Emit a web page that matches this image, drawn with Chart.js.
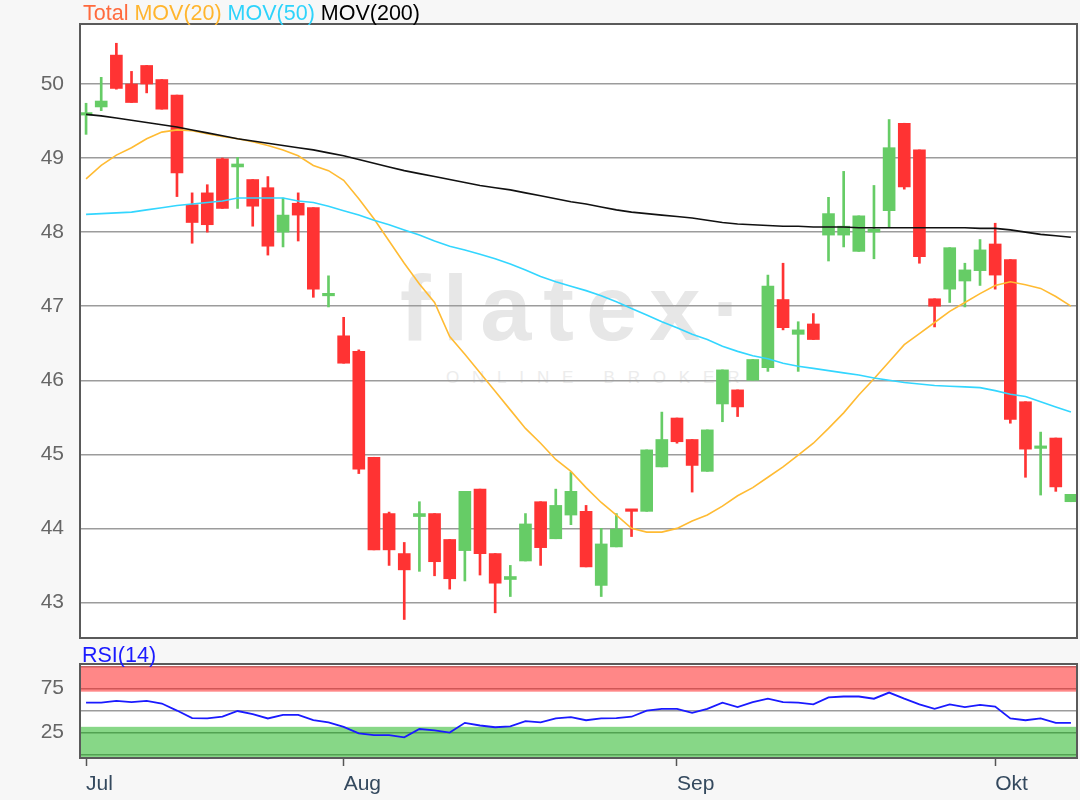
<!DOCTYPE html>
<html><head><meta charset="utf-8">
<script src="https://cdn.jsdelivr.net/npm/chart.js@4.4.1/dist/chart.umd.min.js"></script>
<style>
html,body{margin:0;padding:0;background:#f7f7f7;}
body{width:1080px;height:800px;position:relative;overflow:hidden;font-family:"Liberation Sans",Arial,sans-serif;}
.bg{position:absolute;background:#fff;}
#mainBg{left:80px;top:24px;width:997px;height:614px;}
#rsiBg{left:80px;top:664px;width:997px;height:94px;}
#wm1{position:absolute;left:400px;top:262px;font-size:92px;font-weight:bold;letter-spacing:12px;color:#e7e7e7;line-height:92px;white-space:nowrap;}
#wm2{position:absolute;left:446px;top:369px;font-size:17px;letter-spacing:12.8px;color:#ececec;line-height:17px;white-space:nowrap;}
canvas{position:absolute;left:0;}
#mainCanvas{top:0;}
#rsiCanvas{top:650px;}
.lbl{position:absolute;font-size:21.5px;line-height:21px;white-space:nowrap;}
</style>
</head><body>
<div class="bg" id="mainBg"></div>
<div class="bg" id="rsiBg"></div>
<div id="wm1">flatex·</div>
<div id="wm2">ONLINE BROKER</div>
<canvas id="mainCanvas" width="1080" height="650"></canvas>
<canvas id="rsiCanvas" width="1080" height="150"></canvas>
<div class="lbl" style="left:83px;top:3px;"><span style="color:#ff6a3d">Total</span> <span style="color:#ffb52e">MOV(20)</span> <span style="color:#2ed3fb">MOV(50)</span> <span style="color:#000">MOV(200)</span></div>
<div class="lbl" style="left:82px;top:645px;color:#1a1aff">RSI(14)</div>
<script>
// ---- data ----
const monthTickIdx = [0, 17, 39, 60];
const monthLabels = ['Jul', 'Aug', 'Sep', 'Okt'];
const priceTicks = [43, 44, 45, 46, 47, 48, 49, 50];
const rsiTicks = [0, 25, 50, 75, 100];
const rsiTickLabels = ['', '25', '', '75', ''];
const rsiOverbought = [71.5, 100.5];
const rsiOversold = [-4, 31.5];

const openP  = [49.58,49.69,50.39,50.00,50.25,50.06,49.85,48.37,48.53,48.99,48.88,48.71,48.60,48.00,48.39,48.33,47.14,46.60,46.39,44.96,44.20,43.66,44.16,44.20,43.85,43.70,44.53,43.66,43.31,43.56,44.36,43.86,44.18,44.23,43.23,43.75,44.25,44.23,44.83,45.49,45.20,44.77,45.68,45.87,46.00,46.17,47.09,46.62,46.76,47.96,47.96,47.74,48.00,48.29,49.47,49.11,47.10,47.23,47.34,47.48,47.84,47.63,45.71,45.08,45.22,44.36];
const highP  = [49.74,50.09,50.55,50.17,50.25,50.06,49.85,48.53,48.64,49.00,49.01,48.71,48.75,48.46,48.53,48.33,47.41,46.85,46.41,44.96,44.22,43.81,44.36,44.20,43.85,44.50,44.53,43.66,43.50,44.20,44.36,44.53,44.76,44.31,44.00,44.20,44.25,45.06,45.57,45.49,45.20,45.33,46.14,45.87,46.28,47.42,47.58,46.79,46.90,48.47,48.82,48.22,48.63,49.52,49.47,49.11,47.10,47.79,47.58,47.90,48.12,47.63,45.71,45.30,45.22,44.46];
const lowP   = [49.32,49.64,49.93,49.75,49.88,49.66,48.48,47.85,48.00,48.32,48.32,48.08,47.69,47.80,47.88,47.12,46.99,46.23,44.74,43.71,43.50,42.77,43.42,43.36,43.18,43.29,43.37,42.86,43.08,43.56,43.50,43.86,44.05,43.48,43.08,43.75,43.89,44.23,44.83,45.15,44.49,44.77,45.44,45.51,46.00,46.12,46.68,46.12,46.55,47.61,47.80,47.74,47.64,48.06,48.58,47.58,46.72,47.05,46.99,47.28,47.23,45.42,44.69,44.45,44.50,44.36];
const closeP = [49.61,49.77,49.94,49.75,50.00,49.66,48.80,48.13,48.10,48.32,48.92,48.35,47.81,48.23,48.23,47.23,47.17,46.23,44.80,43.71,43.71,43.44,44.20,43.55,43.32,44.50,43.66,43.26,43.35,44.06,43.74,44.31,44.50,43.48,43.79,43.99,44.23,45.06,45.20,45.17,44.85,45.33,46.14,45.64,46.28,47.27,46.71,46.68,46.55,48.25,48.08,48.22,48.04,49.14,48.61,47.67,47.00,47.79,47.49,47.76,47.42,45.47,45.07,45.11,44.56,44.46];

const mov20  = [48.72,48.90,49.04,49.14,49.26,49.35,49.38,49.37,49.33,49.29,49.26,49.22,49.17,49.11,49.03,48.90,48.83,48.70,48.45,48.18,47.88,47.58,47.30,47.05,46.59,46.35,46.10,45.85,45.60,45.35,45.15,44.93,44.77,44.55,44.35,44.18,44.00,43.95,43.95,44.00,44.10,44.18,44.30,44.44,44.55,44.69,44.83,44.99,45.15,45.35,45.56,45.80,46.02,46.25,46.48,46.63,46.78,46.93,47.05,47.17,47.28,47.33,47.29,47.24,47.13,47.00];
const mov50  = [48.24,48.25,48.26,48.27,48.30,48.33,48.36,48.38,48.40,48.42,48.46,48.46,48.46,48.46,48.42,48.40,48.35,48.29,48.23,48.16,48.10,48.03,47.96,47.88,47.81,47.76,47.70,47.64,47.57,47.49,47.40,47.33,47.27,47.21,47.14,47.06,46.97,46.88,46.79,46.71,46.62,46.55,46.46,46.39,46.33,46.29,46.23,46.19,46.16,46.13,46.10,46.07,46.03,46.00,45.97,45.95,45.93,45.92,45.91,45.90,45.86,45.81,45.78,45.71,45.64,45.57];
const mov200 = [49.59,49.57,49.54,49.51,49.48,49.45,49.42,49.38,49.34,49.30,49.26,49.23,49.20,49.17,49.14,49.11,49.07,49.03,48.98,48.93,48.88,48.83,48.79,48.75,48.71,48.67,48.63,48.60,48.57,48.53,48.49,48.45,48.41,48.38,48.34,48.30,48.27,48.25,48.23,48.21,48.19,48.16,48.13,48.11,48.10,48.09,48.08,48.08,48.07,48.07,48.07,48.06,48.06,48.06,48.06,48.06,48.06,48.06,48.06,48.05,48.05,48.03,48.00,47.97,47.95,47.93];
const rsi14  = [59,59,61,59.5,61,58,50,41.5,41,43,49.5,46,41,45,45,39,36.5,31.5,24,22,22,19.5,29,27.5,25,36,33,31,32,38,36.5,41,42.5,39,41,41.5,43,50,52,52,47.5,52,59,54,59.5,63.5,59.5,59,57,65,66,66,63.5,70.5,63.5,57,52,57,54,56.5,54.5,41,39,41,36,36];

// ---- styles ----
const UP = '#66cc66', DOWN = '#ff3333';
const candleColors = openP.map((o, i) => closeP[i] >= o ? UP : DOWN);
const FONT = {family: '"Liberation Sans", Arial, sans-serif', size: 21};
const X_MIN = -0.4, X_MAX = 65.4;

const framePlugin = {
  id: 'frame',
  afterDatasetsDraw(chart) {
    const a = chart.chartArea, c = chart.ctx;
    c.save();
    c.strokeStyle = '#5a5a5a';
    c.lineWidth = 2;
    c.strokeRect(a.left, a.top, a.right - a.left, a.bottom - a.top);
    c.restore();
  }
};

const fitY = s => { s.width = 80; s.paddingTop = 0; s.paddingBottom = 0; };
const pts = arr => arr.map((v, i) => ({x: i, y: v}));

new Chart(document.getElementById('mainCanvas'), {
  data: {
    datasets: [
      {type: 'line', label: 'MOV(200)', data: pts(mov200), borderColor: '#111', borderWidth: 1.6, pointRadius: 0, tension: 0, order: 0, clip: 0},
      {type: 'line', label: 'MOV(50)', data: pts(mov50), borderColor: '#33d6ff', borderWidth: 1.6, pointRadius: 0, tension: 0, order: 0, clip: 0},
      {type: 'line', label: 'MOV(20)', data: pts(mov20), borderColor: '#ffbb33', borderWidth: 1.6, pointRadius: 0, tension: 0, order: 0, clip: 0},
      {type: 'bar', label: 'body', data: openP.map((o, i) => ({x: i, y: [o, closeP[i]]})), backgroundColor: candleColors, barThickness: 12, minBarLength: 2.5, grouped: false, order: 1, clip: 0},
      {type: 'bar', label: 'wick', data: lowP.map((l, i) => ({x: i, y: [l, highP[i]]})), backgroundColor: candleColors, barThickness: 2, grouped: false, order: 2, clip: 0}
    ]
  },
  options: {
    responsive: false, animation: false,
    layout: {padding: {left: 0, right: 3, top: 24, bottom: 12}},
    plugins: {legend: {display: false}, tooltip: {enabled: false}},
    scales: {
      x: {type: 'linear', min: X_MIN, max: X_MAX, offset: false, grid: {offset: false}, display: false},
      y: {
        type: 'linear', min: 42.52, max: 50.81,
        afterFit: fitY,
        afterBuildTicks: s => { s.ticks = priceTicks.map(v => ({value: v})); },
        ticks: {font: FONT, color: '#666', padding: 16, autoSkip: false, callback: v => String(v)},
        grid: {color: '#9c9c9c', lineWidth: 1.5, drawTicks: false},
        border: {display: false}
      }
    }
  },
  plugins: [framePlugin]
});

const bandPlugin = {
  id: 'bands',
  beforeDatasetsDraw(chart) {
    const a = chart.chartArea, c = chart.ctx, y = chart.scales.y;
    c.save();
    c.beginPath(); c.rect(a.left, a.top, a.right - a.left, a.bottom - a.top); c.clip();
    c.fillStyle = 'rgba(255,25,25,0.52)';
    let t = y.getPixelForValue(rsiOverbought[1]), b = y.getPixelForValue(rsiOverbought[0]);
    c.fillRect(a.left, t, a.right - a.left, b - t);
    c.fillStyle = 'rgba(0,170,0,0.47)';
    t = y.getPixelForValue(rsiOversold[1]); b = y.getPixelForValue(rsiOversold[0]);
    c.fillRect(a.left, t, a.right - a.left, b - t);
    c.restore();
  }
};

new Chart(document.getElementById('rsiCanvas'), {
  data: {
    datasets: [
      {type: 'line', label: 'RSI(14)', data: pts(rsi14), borderColor: '#1a1aff', borderWidth: 1.8, pointRadius: 0, tension: 0, clip: 0}
    ]
  },
  options: {
    responsive: false, animation: false,
    layout: {padding: {left: 0, right: 3, top: 14, bottom: 0}},
    plugins: {legend: {display: false}, tooltip: {enabled: false}},
    scales: {
      x: {
        type: 'linear', min: X_MIN, max: X_MAX, offset: false,
        afterFit: s => { s.height = 42; },
        afterBuildTicks: s => { s.ticks = monthTickIdx.map(v => ({value: v})); },
        ticks: {font: FONT, color: '#34495e', align: 'start', padding: 6, maxRotation: 0, autoSkip: false,
                callback: v => monthLabels[monthTickIdx.indexOf(v)] ?? ''},
        grid: {drawOnChartArea: false, drawTicks: true, tickLength: 8, color: '#555', tickWidth: 1.5, offset: false},
        border: {display: false}
      },
      y: {
        type: 'linear', min: -4, max: 103,
        afterFit: fitY,
        afterBuildTicks: s => { s.ticks = rsiTicks.map(v => ({value: v})); },
        ticks: {font: FONT, color: '#666', padding: 16, autoSkip: false, callback: v => rsiTickLabels[rsiTicks.indexOf(v)] ?? ''},
        grid: {color: '#9c9c9c', lineWidth: 1.5, drawTicks: false},
        border: {display: false}
      }
    }
  },
  plugins: [bandPlugin, framePlugin]
});
</script>
</body></html>
